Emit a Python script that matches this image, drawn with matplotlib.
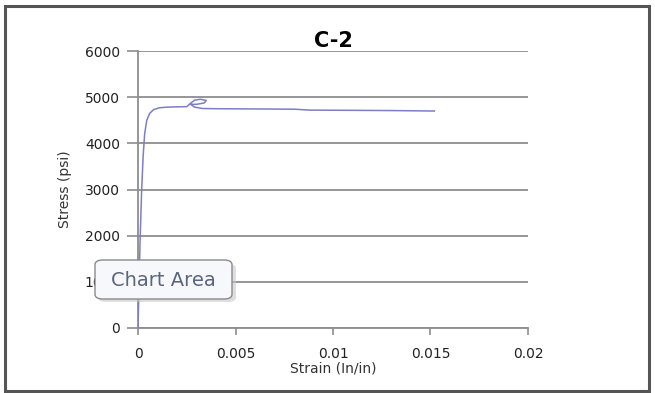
import matplotlib
matplotlib.use('Agg')
import matplotlib.pyplot as plt
from matplotlib.patches import Rectangle, FancyBboxPatch

# Data (strain in in/in, stress in psi)
strain = [0, 0.00004, 0.0001, 0.00018, 0.00026, 0.00034, 0.00045, 0.0006, 0.0008,
          0.0011, 0.0015, 0.002, 0.0025, 0.0027, 0.0029, 0.0032, 0.0035, 0.0034,
          0.003, 0.0027, 0.0029, 0.0033, 0.004, 0.006, 0.008, 0.0088, 0.011,
          0.013, 0.0152]
stress = [0, 700, 1800, 2900, 3700, 4200, 4500, 4650, 4730,
          4770, 4785, 4790, 4795, 4870, 4935, 4955, 4930, 4875,
          4845, 4845, 4785, 4755, 4750, 4745, 4740, 4720, 4715,
          4710, 4700]

x_ticks = [0, 0.005, 0.01, 0.015, 0.02]
x_labels = ['0', '0.005', '0.01', '0.015', '0.02']
y_ticks = [0, 1000, 2000, 3000, 4000, 5000, 6000]

plt.rcParams['font.family'] = ['DejaVu Sans']

fig = plt.figure(figsize=(6.55, 3.93), dpi=100)
ax = fig.add_axes([0.2107, 0.1654, 0.5954, 0.7048])

grid_col = '#8e8e8e'
ax.plot(strain, stress, color='#7b7fc4', linewidth=1.1, zorder=3)

ax.set_xlim(0, 0.02)
ax.set_ylim(0, 6000)
ax.set_xticks(x_ticks)
ax.set_xticklabels(x_labels)
ax.set_yticks(y_ticks)
ax.yaxis.grid(True, color=grid_col, linewidth=1.3)
ax.set_axisbelow(True)

for s in ['top', 'right']:
    ax.spines[s].set_visible(False)
for s in ['left', 'bottom']:
    ax.spines[s].set_color(grid_col)
    ax.spines[s].set_linewidth(1.3)

ax.tick_params(axis='both', colors=grid_col, width=1.2, labelsize=10,
               labelcolor='#222222')
ax.tick_params(axis='y', length=8, pad=5)
ax.tick_params(axis='x', length=5, pad=9)

ax.set_xlabel('Strain (In/in)', fontsize=10, color='#333333', labelpad=0)
ax.set_ylabel('Stress (psi)', fontsize=10, color='#333333', labelpad=9)
ax.set_title('C-2', fontsize=15, fontweight='bold', pad=0)

# outer chart border
fig.patches.append(Rectangle((5 / 655, 2 / 393), 644 / 655, 385 / 393,
                             transform=fig.transFigure, fill=False,
                             edgecolor='#555555', linewidth=2.2))

# "Chart Area" tooltip
shadow = FancyBboxPatch((98 / 655, 1 - 302 / 393), 138 / 655, 38 / 393,
                        boxstyle='round,pad=0,rounding_size=0.012',
                        transform=fig.transFigure, facecolor='#c8c8c8',
                        edgecolor='none', alpha=0.6, zorder=5)
box = FancyBboxPatch((95 / 655, 1 - 299 / 393), 137 / 655, 39 / 393,
                     boxstyle='round,pad=0,rounding_size=0.012',
                     transform=fig.transFigure, facecolor='#f7f8fb',
                     edgecolor='#8a8a8a', linewidth=1.0, zorder=6)
fig.patches.extend([shadow, box])
fig.text(163 / 655, 1 - 280 / 393, 'Chart Area', fontsize=14, color='#5b6580',
         ha='center', va='center', zorder=7)

fig.savefig('out.png', dpi=100)
